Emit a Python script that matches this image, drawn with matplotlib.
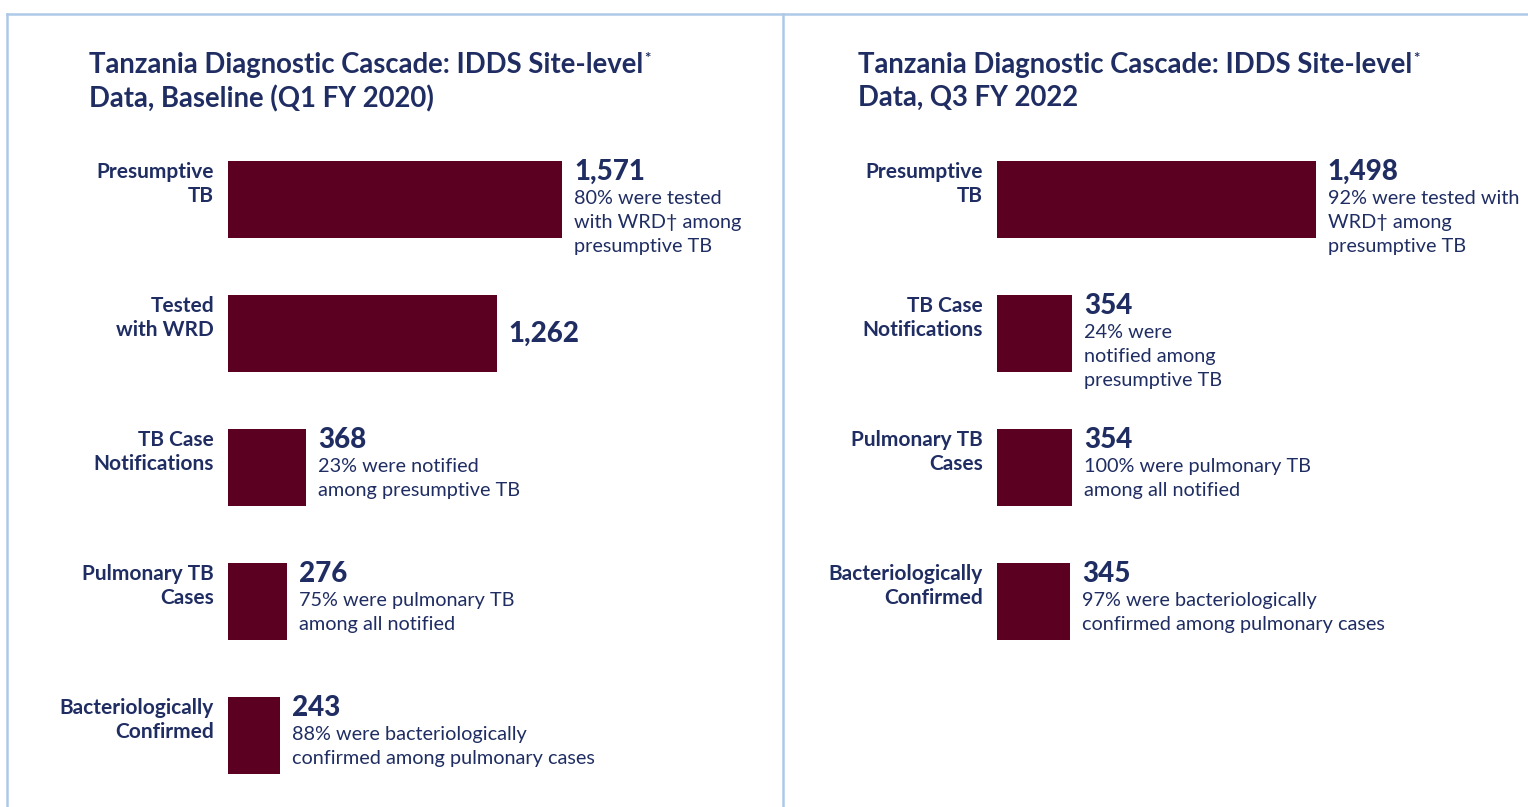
import matplotlib.pyplot as plt
from matplotlib.lines import Line2D

# data
left_title = ['Tanzania Diagnostic Cascade: IDDS Site-level', 'Data, Baseline (Q1 FY 2020)']
left_labels = ['Presumptive\nTB', 'Tested\nwith WRD', 'TB Case\nNotifications',
               'Pulmonary TB\nCases', 'Bacteriologically\nConfirmed']
left_values = [1571, 1262, 368, 276, 243]
left_notes = ['80% were tested\nwith WRD\u2020 among\npresumptive TB',
              '',
              '23% were notified\namong presumptive TB',
              '75% were pulmonary TB\namong all notified',
              '88% were bacteriologically\nconfirmed among pulmonary cases']

right_title = ['Tanzania Diagnostic Cascade: IDDS Site-level', 'Data, Q3 FY 2022']
right_labels = ['Presumptive\nTB', 'TB Case\nNotifications', 'Pulmonary TB\nCases',
                'Bacteriologically\nConfirmed']
right_values = [1498, 354, 354, 345]
right_notes = ['92% were tested with\nWRD\u2020 among\npresumptive TB',
               '24% were\nnotified among\npresumptive TB',
               '100% were pulmonary TB\namong all notified',
               '97% were bacteriologically\nconfirmed among pulmonary cases']

# style
BAR = '#5c0022'
NAVY = '#1f2d62'
EDGE = '#aec9e8'
plt.rcParams['font.family'] = ['Lato', 'DejaVu Sans']

W, H = 1528, 807
fig = plt.figure(figsize=(W / 100, H / 100), dpi=100)
fig.patch.set_facecolor('white')

# panel borders
fig.add_artist(Line2D([7 / W, 1], [1 - 14 / H, 1 - 14 / H], color=EDGE, lw=1.8, transform=fig.transFigure))
fig.add_artist(Line2D([7 / W, 7 / W], [0, 1 - 14 / H], color=EDGE, lw=1.8, transform=fig.transFigure))
fig.add_artist(Line2D([783 / W, 783 / W], [0, 1 - 14 / H], color=EDGE, lw=1.8, transform=fig.transFigure))

bar_h = 0.575
ax_top, ax_bot = 132.5, 802.5  # pixel rows of the axes


def panel(x0, x1, xmax, title, title_x, labels, values, notes):
    ax = fig.add_axes([x0 / W, (H - ax_bot) / H, (x1 - x0) / W, (ax_bot - ax_top) / H])
    ax.set_xlim(0, xmax)
    ax.set_ylim(4.5, -0.5)
    ax.axis('off')
    ax.barh(range(len(values)), values, height=bar_h, color=BAR)
    for i, (lab, v, note) in enumerate(zip(labels, values, notes)):
        top = i - bar_h / 2
        ax.annotate(lab, xy=(0, top), xytext=(-14, -1), textcoords='offset pixels',
                    ha='right', va='top', fontsize=15, fontweight='bold', color=NAVY,
                    linespacing=1.27)
        if note:
            ax.annotate(f'{v:,}', xy=(v, top), xytext=(12, 2), textcoords='offset pixels',
                        ha='left', va='top', fontsize=20, fontweight='black', color=NAVY)
            ax.annotate(note, xy=(v, top), xytext=(12, -29), textcoords='offset pixels',
                        ha='left', va='top', fontsize=14.3, color=NAVY, linespacing=1.5)
        else:
            ax.annotate(f'{v:,}', xy=(v, i), xytext=(12, 0), textcoords='offset pixels',
                        ha='left', va='center', fontsize=20, fontweight='black', color=NAVY)
    t1 = fig.text(title_x / W, 1 - 52 / H, title[0], ha='left', va='top', fontsize=19.8,
                  fontweight='bold', color=NAVY)
    fig.text(title_x / W, 1 - 85 / H, title[1], ha='left', va='top', fontsize=19.8,
             fontweight='bold', color=NAVY)
    ax.annotate('*', xy=(1, 1), xycoords=t1, xytext=(1, 0), textcoords='offset pixels',
                ha='left', va='top', fontsize=11, fontweight='bold', color=NAVY)
    return ax


panel(228, 780, 2594, left_title, 89, left_labels, left_values, left_notes)
panel(997, 1528, 2495, right_title, 858, right_labels, right_values, right_notes)

plt.savefig('out.png', dpi=100, facecolor='white')
